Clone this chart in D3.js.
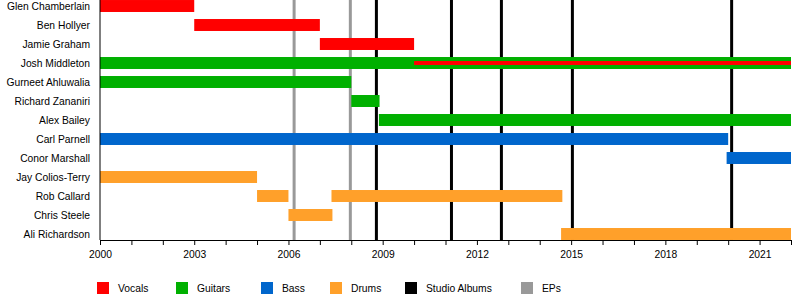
<!DOCTYPE html>
<html>
<head>
<meta charset="utf-8">
<script src="https://cdn.jsdelivr.net/npm/d3@7"></script>
<style>
  body { margin: 0; background: #fff; }
  text { font-family: "Liberation Sans", Arial, sans-serif; font-size: 10.3px; fill: #000; }
</style>
</head>
<body>
<div id="chart"></div>
<script>
// band members, top to bottom
const members = ["Glen Chamberlain", "Ben Hollyer", "Jamie Graham", "Josh Middleton",
  "Gurneet Ahluwalia", "Richard Zananiri", "Alex Bailey", "Carl Parnell", "Conor Marshall",
  "Jay Colios-Terry", "Rob Callard", "Chris Steele", "Ali Richardson"];

// [member, role, start, end]
const periods = [
  ["Glen Chamberlain", "Vocals", 2000, 2003],
  ["Ben Hollyer", "Vocals", 2003, 2007],
  ["Jamie Graham", "Vocals", 2007, 2010],
  ["Josh Middleton", "Guitars", 2000, 2022],
  ["Gurneet Ahluwalia", "Guitars", 2000, 2008],
  ["Richard Zananiri", "Guitars", 2008, 2008.9],
  ["Alex Bailey", "Guitars", 2008.88, 2022],
  ["Carl Parnell", "Bass", 2000, 2020],
  ["Conor Marshall", "Bass", 2019.95, 2022],
  ["Jay Colios-Terry", "Drums", 2000, 2005],
  ["Rob Callard", "Drums", 2005, 2006],
  ["Rob Callard", "Drums", 2007.37, 2014.72],
  ["Chris Steele", "Drums", 2006, 2007.4],
  ["Ali Richardson", "Drums", 2014.68, 2022]
];

// second role drawn as a thin line inside the bar
const secondary = [
  ["Josh Middleton", "Vocals", 2010, 2022]
];

const studioAlbums = [2008.8, 2011.19, 2012.78, 2015.04, 2020.11];
const eps = [2006.18, 2007.97];

const tickYears = [2000, 2003, 2006, 2009, 2012, 2015, 2018, 2021];
const minorYears = d3.range(2000, 2023);

const legendItems = ["Vocals", "Guitars", "Bass", "Drums", "Studio Albums", "EPs"];
const colors = {
  "Vocals": "#ff0000",
  "Guitars": "#00b000",
  "Bass": "#0066cc",
  "Drums": "#ffa02a",
  "Studio Albums": "#000000",
  "EPs": "#999999"
};

const width = 800, height = 300;
const svg = d3.select("#chart").append("svg")
  .attr("width", width)
  .attr("height", height);

const x = d3.scaleLinear().domain([2000, 2022]).range([100, 791]);
const y = d3.scaleBand().domain(members).range([-3.5, 243.5]).paddingInner(0.37).paddingOuter(0.185);
const axisY = 240;

// release lines (behind the bars)
svg.selectAll(".ep").data(eps).enter().append("line")
  .attr("x1", d => x(d)).attr("x2", d => x(d))
  .attr("y1", 0).attr("y2", axisY)
  .attr("stroke", colors["EPs"]).attr("stroke-width", 3);

svg.selectAll(".album").data(studioAlbums).enter().append("line")
  .attr("x1", d => x(d)).attr("x2", d => x(d))
  .attr("y1", 0).attr("y2", axisY)
  .attr("stroke", colors["Studio Albums"]).attr("stroke-width", 3);

// bars
svg.selectAll(".bar").data(periods).enter().append("rect")
  .attr("x", d => x(d[2]))
  .attr("y", d => y(d[0]))
  .attr("width", d => x(d[3]) - x(d[2]))
  .attr("height", y.bandwidth())
  .attr("fill", d => colors[d[1]]);

svg.selectAll(".sec").data(secondary).enter().append("rect")
  .attr("x", d => x(d[2]))
  .attr("y", d => y(d[0]) + y.bandwidth() / 2 - 2)
  .attr("width", d => x(d[3]) - x(d[2]))
  .attr("height", 4)
  .attr("fill", d => colors[d[1]]);

// member labels
svg.selectAll(".name").data(members).enter().append("text")
  .attr("x", 90)
  .attr("y", d => y(d) + y.bandwidth() / 2 + 4)
  .attr("text-anchor", "end")
  .text(d => d);

// left edge
svg.append("line")
  .attr("x1", 100).attr("x2", 100)
  .attr("y1", 0).attr("y2", axisY)
  .attr("stroke", "#000").attr("stroke-width", 1);

// x axis
const xAxis = d3.axisBottom(x)
  .tickValues(minorYears)
  .tickSize(5)
  .tickSizeOuter(5)
  .tickFormat(d => tickYears.includes(d) ? d : "");

const gx = svg.append("g")
  .attr("transform", "translate(0," + axisY + ")")
  .call(xAxis);
gx.selectAll("text")
  .style("font-family", "Liberation Sans, Arial, sans-serif")
  .style("font-size", "10.3px")
  .attr("dy", "0.95em");

// legend
const legendX = [97, 176, 261, 330, 405, 521];
const lg = svg.selectAll(".legend").data(legendItems).enter().append("g")
  .attr("transform", (d, i) => "translate(" + legendX[i] + ",282)");
lg.append("rect")
  .attr("width", 12).attr("height", 12)
  .attr("fill", d => colors[d]);
lg.append("text")
  .attr("x", 21).attr("y", 10)
  .text(d => d);
</script>
</body>
</html>
